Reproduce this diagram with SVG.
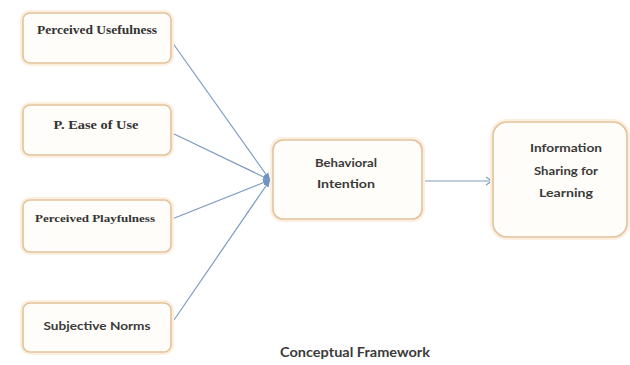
<svg xmlns="http://www.w3.org/2000/svg" width="630" height="365" viewBox="0 0 630 365">
<style>
.glow{fill:none;stroke:#fcefe0;stroke-width:6}
.box{fill:#fffdf9;stroke:#e3c29c;stroke-width:1.6}
.serif{font-family:"Liberation Serif","DejaVu Serif",serif;font-weight:bold;fill:#333;text-anchor:middle}
.sans{font-family:Lato,"Open Sans","Liberation Sans",sans-serif;font-weight:bold;fill:#3a3a3a;text-anchor:middle}
.conn{stroke:#7d9cc0;stroke-width:1.2;fill:none}
</style>
<defs>
<marker id="ah" markerWidth="8" markerHeight="8" refX="7" refY="4" orient="auto" markerUnits="userSpaceOnUse">
<path d="M0,1 L7,4 L0,7 Z" fill="#6f93bd"/>
</marker>
<marker id="oa" markerWidth="10" markerHeight="10" refX="8" refY="5" orient="auto" markerUnits="userSpaceOnUse">
<path d="M2,1 L8,5 L2,9" fill="none" stroke="#7d9cc0" stroke-width="1.2"/>
</marker>
</defs>
<rect width="630" height="365" fill="#ffffff"/>
<g id="connectors">
<line class="conn" x1="172" y1="42" x2="270" y2="180" marker-end="url(#ah)"/>
<line class="conn" x1="172" y1="133" x2="270" y2="180" marker-end="url(#ah)"/>
<line class="conn" x1="172" y1="219" x2="270" y2="180" marker-end="url(#ah)"/>
<line class="conn" x1="174" y1="320" x2="270" y2="180" marker-end="url(#ah)"/>
<line class="conn" x1="422" y1="181" x2="492" y2="181" marker-end="url(#oa)"/>
</g>
<g id="perceived-usefulness">
<rect class="glow" x="23" y="13" width="148" height="50" rx="7"/>
<rect class="box" x="23" y="13" width="148" height="50" rx="7"/>
<text class="serif" x="97" y="34" font-size="11.5" textLength="120" lengthAdjust="spacingAndGlyphs">Perceived  Usefulness</text>
</g>
<g id="ease-of-use">
<rect class="glow" x="23" y="105" width="148" height="50" rx="7"/>
<rect class="box" x="23" y="105" width="148" height="50" rx="7"/>
<text class="serif" x="96" y="129" font-size="13" textLength="85" lengthAdjust="spacingAndGlyphs">P. Ease of Use</text>
</g>
<g id="perceived-playfulness">
<rect class="glow" x="23" y="200" width="148" height="52" rx="7"/>
<rect class="box" x="23" y="200" width="148" height="52" rx="7"/>
<text class="serif" x="95" y="222" font-size="10.5" textLength="120" lengthAdjust="spacingAndGlyphs">Perceived Playfulness</text>
</g>
<g id="subjective-norms">
<rect class="glow" x="23" y="303" width="148" height="49" rx="7"/>
<rect class="box" x="23" y="303" width="148" height="49" rx="7"/>
<text class="sans" x="97" y="330" font-size="12" textLength="107" lengthAdjust="spacingAndGlyphs">Subjective Norms</text>
</g>
<g id="behavioral-intention">
<rect class="glow" x="273" y="140" width="149" height="79" rx="10"/>
<rect class="box" x="273" y="140" width="149" height="79" rx="10"/>
<text class="sans" x="346" y="167" font-size="12" textLength="62" lengthAdjust="spacingAndGlyphs">Behavioral</text>
<text class="sans" x="346" y="188" font-size="12" textLength="58" lengthAdjust="spacingAndGlyphs">Intention</text>
</g>
<g id="information-sharing">
<rect class="glow" x="493" y="122" width="134" height="115" rx="14"/>
<rect class="box" x="493" y="122" width="134" height="115" rx="14"/>
<text class="sans" x="566" y="152" font-size="12" textLength="72" lengthAdjust="spacingAndGlyphs">Information</text>
<text class="sans" x="566" y="175" font-size="12" textLength="64" lengthAdjust="spacingAndGlyphs">Sharing for</text>
<text class="sans" x="566" y="197" font-size="12" textLength="54" lengthAdjust="spacingAndGlyphs">Learning</text>
</g>
<text class="sans" x="355" y="357" font-size="13" textLength="150" lengthAdjust="spacingAndGlyphs">Conceptual Framework</text>
</svg>
